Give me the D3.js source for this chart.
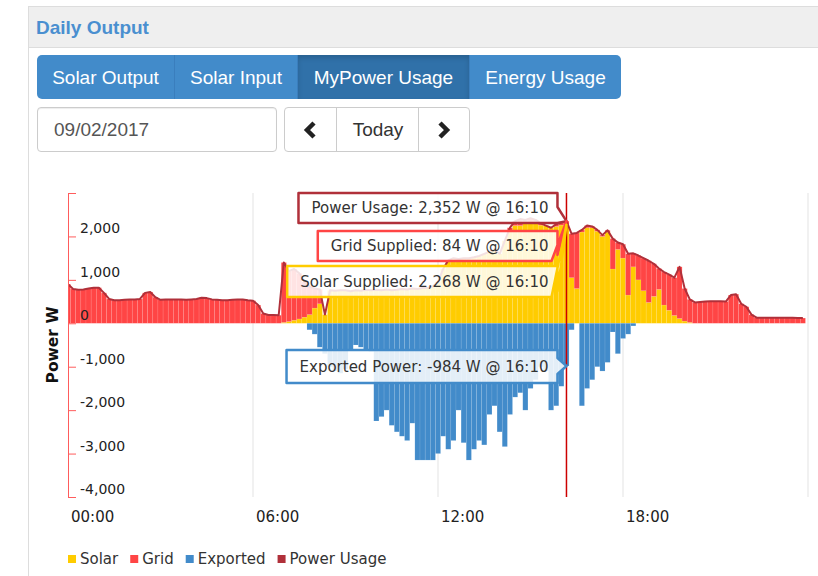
<!DOCTYPE html>
<html>
<head>
<meta charset="utf-8">
<script src="https://d3js.org/d3.v7.min.js"></script>
<style>
  body { margin: 0; background: #fff; }
  #page { position: relative; width: 818px; height: 576px; overflow: hidden; font-family: "Liberation Sans", Arial, sans-serif; }
  #chart { position: absolute; left: 0; top: 0; }
  .box { position: absolute; box-sizing: border-box; }
  .panel { left: 28px; top: 6px; width: 800px; height: 580px; border-left: 1px solid #ddd; border-top: 1px solid #ddd; }
  .heading { left: 29px; top: 7px; width: 789px; height: 41px; background: #efefef; border-bottom: 1px solid #ddd; }
  .title { left: 36px; top: 17px; font-size: 19px; font-weight: bold; color: #4a8fd0; }
  .tabs { left: 37px; top: 55px; width: 584px; height: 44px; border-radius: 5px; background: #428bca; overflow: hidden; }
  .tab { position: absolute; top: 0; height: 44px; line-height: 45px; text-align: center; color: #fff; font-size: 19px; border-right: 1px solid #3a7ebd; box-sizing: border-box; }
  .tab.active { background: #3071a9; box-shadow: inset 0 3px 5px rgba(0,0,0,.15); }
  .date { left: 37px; top: 107px; width: 240px; height: 45px; border: 1px solid #ccc; border-radius: 4px; font-size: 19px; color: #555; line-height: 43px; padding-left: 16px; box-shadow: inset 0 1px 1px rgba(0,0,0,.075); }
  .nav { left: 284px; top: 107px; width: 186px; height: 45px; border: 1px solid #ccc; border-radius: 4px; }
  .nav .sep { position: absolute; top: 0; width: 1px; height: 43px; background: #ccc; }
  .nav .today { position: absolute; left: 52px; width: 82px; top: 0; line-height: 43px; text-align: center; font-size: 19px; color: #333; }
  .nav svg { position: absolute; top: 13px; }
</style>
</head>
<body>
<div id="page">
  <svg id="chart" width="818" height="576"></svg>
  <div class="box panel"></div>
  <div class="box heading"></div>
  <div class="box title">Daily Output</div>
  <div class="box tabs">
    <div class="tab" style="left:0;width:138px">Solar Output</div>
    <div class="tab" style="left:138px;width:123px">Solar Input</div>
    <div class="tab active" style="left:261px;width:172px">MyPower Usage</div>
    <div class="tab" style="left:433px;width:151px;border-right:none">Energy Usage</div>
  </div>
  <div class="box date">09/02/2017</div>
  <div class="box nav">
    <svg width="16" height="18" style="left:17px"><path d="M12 2 L5 9 L12 16" stroke="#222" stroke-width="4.5" fill="none"/></svg>
    <div class="sep" style="left:51px"></div>
    <div class="today">Today</div>
    <div class="sep" style="left:133px"></div>
    <svg width="16" height="18" style="left:151px"><path d="M4 2 L11 9 L4 16" stroke="#222" stroke-width="4.5" fill="none"/></svg>
  </div>
</div>
<script>
// 10-minute readings for 09/02/2017, one row per hour
const grid = [
  900, 790, 770, 780, 800, 820,
  820, 700, 560, 530, 530, 540,
  545, 550, 560, 700, 720, 600,
  540, 550, 550, 550, 550, 540,
  550, 560, 590, 580, 550, 540,
  530, 530, 540, 550, 550, 530,
  520, 420, 225, 190, 190, 185,
  1380, 1160, 1180, 1050, 810, 650,
  450, 330, 0, 0, 0, 0,
  0, 0, 0, 0, 0, 0,
  0, 0, 0, 0, 0, 0,
  0, 0, 0, 0, 0, 0,
  0, 0, 0, 0, 0, 0,
  0, 0, 0, 0, 0, 0,
  0, 0, 60, 100, 150, 80,
  120, 80, 40, 0, 0, 50,
  60, 84, 1010, 1280, 50, 50,
  30, 30, 30, 40, 700, 160,
  320, 950, 310, 560, 750, 960,
  750, 480, 760, 820, 870, 1190,
  750, 530, 480, 490, 500, 510,
  510, 510, 500, 650, 670, 450,
  380, 200, 130, 125, 125, 125,
  125, 125, 125, 125, 120, 120
];

const solar = [
  0, 0, 0, 0, 0, 0,
  0, 0, 0, 0, 0, 0,
  0, 0, 0, 0, 0, 0,
  0, 0, 0, 0, 0, 0,
  0, 0, 0, 0, 0, 0,
  0, 0, 0, 0, 0, 0,
  0, 0, 0, 0, 0, 0,
  20, 40, 70, 100, 140, 200,
  350, 450, 200, 760, 750, 760,
  760, 740, 760, 750, 770, 760,
  770, 760, 780, 760, 770, 790,
  780, 800, 790, 810, 820, 850,
  950, 1250, 1450, 1500, 1480, 1500,
  1500, 1520, 1550, 1600, 1650, 1700,
  1600, 1900, 2140, 2250, 2250, 2300,
  2300, 2300, 2260, 2250, 2200, 2230,
  2260, 2268, 1050, 800, 2100, 2200,
  2200, 2120, 2000, 2100, 1250, 1700,
  1500, 650, 1300, 1000, 750, 480,
  620, 780, 420, 300, 180, 110,
  50, 20, 0, 0, 0, 0,
  0, 0, 0, 0, 0, 0,
  0, 0, 0, 0, 0, 0,
  0, 0, 0, 0, 0, 0
];

const exported = [
  0, 0, 0, 0, 0, 0,
  0, 0, 0, 0, 0, 0,
  0, 0, 0, 0, 0, 0,
  0, 0, 0, 0, 0, 0,
  0, 0, 0, 0, 0, 0,
  0, 0, 0, 0, 0, 0,
  0, 0, 0, 0, 0, 0,
  0, 0, 0, 0, 0, -150,
  -250, -550, -700, -1000, -1100, -1150,
  -1050, -600, -500, -550, -600, -650,
  -2250, -2150, -2000, -2350, -2500, -2600,
  -2700, -2300, -3150, -3150, -3150, -3150,
  -3000, -2600, -2900, -2700, -2000, -2750,
  -3150, -2900, -2700, -2800, -2100, -1900,
  -2500, -2840, -2100, -1700, -1600, -2000,
  -1500, -1300, -1000, -1100, -2000, -1900,
  -1450, -984, -150, 0, -1900, -1500,
  -1300, -1000, -1100, -900, -200, -700,
  -350, -250, -60, 0, 0, 0,
  0, 0, 0, 0, 0, 0,
  0, 0, 0, 0, 0, 0,
  0, 0, 0, 0, 0, 0,
  0, 0, 0, 0, 0, 0,
  0, 0, 0, 0, 0, 0
];

const slotHours = 1 / 6;
const xTicks = [0, 6, 12, 18];
const xTickLabels = ['00:00', '06:00', '12:00', '18:00'];
const gridHours = [6, 12, 18, 24];
const yTicks = [-4000, -3000, -2000, -1000, 0, 1000, 2000, 3000];
const legendItems = ['Solar', 'Grid', 'Exported', 'Power Usage'];
const legendColors = ['#ffcc00', '#ff4545', '#428bca', '#b0303a'];
const hoverIndex = 97; // 16:10

const color = {solar: '#ffcc00', grid: '#ff4545', exported: '#428bca', usage: '#b0303a'};
const fmt = d3.formatLocale({decimal: '.', thousands: ',', grouping: [3], currency: ['', ''], minus: '-'}).format(',');

const data = grid.map((g, i) => ({t: i * slotHours, grid: g, solar: solar[i], exported: exported[i]}));

const svg = d3.select('#chart');
const margin = {top: 193, right: 10, bottom: 79, left: 68};
const width = 818 - margin.left - margin.right;
const height = 576 - margin.top - margin.bottom;

const x = d3.scaleLinear().domain([0, 24]).range([margin.left, margin.left + width]);
const y = d3.scaleLinear().domain([-4000, 3000]).range([margin.top + height, margin.top]);

svg.append('defs').append('clipPath').attr('id', 'plot')
  .append('rect')
    .attr('x', margin.left).attr('y', margin.top)
    .attr('width', width).attr('height', height);

// vertical grid lines
svg.append('g')
  .selectAll('line')
  .data(gridHours)
  .join('line')
    .attr('x1', d => x(d)).attr('x2', d => x(d))
    .attr('y1', margin.top).attr('y2', margin.top + height)
    .attr('stroke', '#e3e3e3');

const plot = svg.append('g').attr('clip-path', 'url(#plot)');
const bw = x(slotHours) - x(0);

const stacked = d3.stack().keys(['solar', 'grid'])(data);

plot.selectAll('.series')
  .data(stacked)
  .join('g')
    .attr('class', 'series')
    .attr('fill', d => color[d.key])
  .selectAll('rect')
  .data(d => d)
  .join('rect')
    .attr('x', d => x(d.data.t) - bw / 2)
    .attr('width', bw)
    .attr('y', d => y(d[1]))
    .attr('height', d => y(d[0]) - y(d[1]))
    .attr('stroke', '#fff')
    .attr('stroke-opacity', 0.15)
    .attr('stroke-width', 0.6);

plot.append('g')
    .attr('fill', color.exported)
  .selectAll('rect')
  .data(data)
  .join('rect')
    .attr('x', d => x(d.t) - bw / 2)
    .attr('width', bw)
    .attr('y', y(0))
    .attr('height', d => y(d.exported) - y(0))
    .attr('stroke', '#fff')
    .attr('stroke-opacity', 0.15)
    .attr('stroke-width', 0.6);

plot.append('path')
  .datum(data)
  .attr('fill', 'none')
  .attr('stroke', color.usage)
  .attr('stroke-width', 2)
  .attr('stroke-linejoin', 'round')
  .attr('d', d3.line().x(d => x(d.t)).y(d => y(d.solar + d.grid)));

// y axis
const yAxis = svg.append('g')
  .attr('transform', `translate(${margin.left},0)`)
  .call(d3.axisRight(y)
    .tickValues(yTicks)
    .tickSize(8)
    .tickPadding(4)
    .tickFormat(d => d === 3000 ? '' : fmt(d)));
yAxis.selectAll('path, line').attr('stroke', '#ff5c5c');
yAxis.selectAll('text')
  .attr('dy', '-0.25em')
  .attr('fill', '#222')
  .style('font-family', '"DejaVu Sans", Verdana, sans-serif')
  .style('font-size', '14px');

svg.append('text')
  .attr('transform', `translate(58,${margin.top + height / 2}) rotate(-90)`)
  .attr('text-anchor', 'middle')
  .style('font-family', '"DejaVu Sans", Verdana, sans-serif')
  .style('font-size', '15.5px')
  .style('font-weight', 'bold')
  .attr('fill', '#111')
  .text('Power W');

// x axis labels
svg.append('g')
  .selectAll('text')
  .data(xTicks)
  .join('text')
    .attr('x', d => x(d) + 3)
    .attr('y', 522)
    .attr('fill', '#222')
    .style('font-family', '"DejaVu Sans", Verdana, sans-serif')
    .style('font-size', '15px')
    .text((d, i) => xTickLabels[i]);

// hover cursor
const hover = data[hoverIndex];
const ax = x(hover.t);
svg.append('line')
  .attr('x1', ax).attr('x2', ax)
  .attr('y1', margin.top).attr('y2', margin.top + height)
  .attr('stroke', '#cc0000')
  .attr('stroke-width', 1.5);

const hoverTime = '16:10';
const tips = [
  {label: 'Power Usage', value: hover.solar + hover.grid, stroke: '#b0303a', top: 193, bottom: 223, ptr: 'top'},
  {label: 'Grid Supplied', value: hover.grid, stroke: '#ff4545', top: 231, bottom: 261, ay: y(hover.solar + hover.grid), ptr: 'corner'},
  {label: 'Solar Supplied', value: hover.solar, stroke: '#ffcc00', top: 266, bottom: 297, ay: y(hover.solar), ptr: 'corner'},
  {label: 'Exported Power', value: hover.exported, stroke: '#428bca', top: y(hover.exported) - 16, bottom: y(hover.exported) + 17, ptr: 'side'}
];
tips[0].ay = y(hover.solar + hover.grid);
tips[3].ay = y(hover.exported);

const tipG = svg.append('g');
tips.forEach(tp => {
  const g = tipG.append('g');
  const path = g.append('path');
  const text = g.append('text')
    .attr('x', ax - 18)
    .attr('y', (tp.top + tp.bottom) / 2)
    .attr('dy', '0.35em')
    .attr('text-anchor', 'end')
    .attr('fill', '#333')
    .style('font-family', '"DejaVu Sans", Verdana, sans-serif')
    .style('font-size', '15px')
    .text(`${tp.label}: ${fmt(tp.value)} W @ ${hoverTime}`);
  const tw = text.node().getComputedTextLength();
  const L = ax - 18 - tw - 13, R = ax - 9, T = tp.top, B = tp.bottom;
  let d;
  if (tp.ptr === 'top') {
    d = `M${L},${T}H${R}V${T + 14}L${ax},${tp.ay}L${R},${B}H${L}Z`;
  } else if (tp.ptr === 'corner') {
    d = `M${L},${T}H${R}V${B - 6}L${ax},${tp.ay}L${R - 6},${B}H${L}Z`;
  } else {
    d = `M${L},${T}H${R}V${tp.ay - 8}L${ax},${tp.ay}L${R},${tp.ay + 8}V${B}H${L}Z`;
  }
  path.attr('d', d)
    .attr('fill', 'rgba(255,255,255,0.85)')
    .attr('stroke', tp.stroke)
    .attr('stroke-width', 2.5)
    .attr('stroke-linejoin', 'round');
});

// legend
const legend = svg.append('g').attr('transform', 'translate(68,555)');
let lx = 0;
legendItems.forEach((name, i) => {
  const item = legend.append('g').attr('transform', `translate(${lx},0)`);
  item.append('rect').attr('width', 8).attr('height', 8).attr('fill', legendColors[i]);
  const t = item.append('text')
    .attr('x', 12).attr('y', 9)
    .attr('fill', '#333')
    .style('font-family', '"DejaVu Sans", Verdana, sans-serif')
    .style('font-size', '15px')
    .text(name);
  lx += 12 + t.node().getComputedTextLength() + 12;
});
</script>
</body>
</html>
